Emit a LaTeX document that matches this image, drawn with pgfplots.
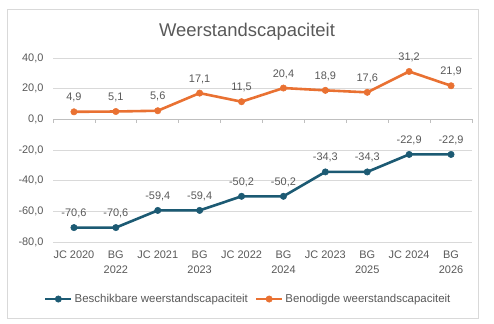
\documentclass[border=0pt]{standalone}
\usepackage{fontspec}
\setmainfont{Liberation Sans}
\usepackage{pgfplots}
\pgfplotsset{compat=1.18}
\definecolor{txt}{HTML}{595959}
\definecolor{gridc}{HTML}{D9D9D9}
\definecolor{zeroc}{HTML}{BFBFBF}
\definecolor{blueS}{HTML}{1C5A73}
\definecolor{orangeS}{HTML}{E97132}
\begin{document}
\begin{tikzpicture}
\draw[gridc, line width=0.75bp] (7bp,6bp) rectangle (478bp,315bp);
\node[font=\fontsize{18.5}{21}\selectfont, text=txt] at (247bp,292bp) {Weerstandscapaciteit};
\begin{axis}[
  at={(53bp,82bp)}, anchor=south west,
  scale only axis, width=419bp, height=184bp,
  xmin=-0.5, xmax=9.5, ymin=-80, ymax=40,
  xtick={0,...,9},
  xticklabels={JC 2020,{BG\\2022},JC 2021,{BG\\2023},JC 2022,{BG\\2024},JC 2023,{BG\\2025},JC 2024,{BG\\2026}},
  ytick={-80,-60,...,40},
  axis line style={draw=none},
  major tick length=0pt,
  ymajorgrids, grid style={gridc, line width=0.75bp},
  /pgf/number format/.cd, fixed, fixed zerofill, precision=1, use comma, assume math mode=true,
  /pgfplots/.cd,
  tick label style={font=\fontsize{11}{15}\selectfont, text=txt},
  xticklabel style={align=center, yshift=-5.5bp},
  yticklabel style={xshift=-6bp},
  clip=false,
  nodes near coords={\pgfmathprintnumber[fixed,fixed zerofill,precision=1,use comma,assume math mode=true]{\pgfplotspointmeta}},
  nodes near coords align={anchor=south},
  every node near coord/.append style={font=\fontsize{11}{13}\selectfont, text=txt, anchor=south, yshift=6bp},
  legend columns=2,
  legend style={draw=none, at={(0.466,-0.31)}, anchor=center, font=\fontsize{11.5}{13}\selectfont, text=txt,
    /tikz/every even column/.append style={column sep=5bp}, inner xsep=0pt},
  legend image code/.code={\draw[#1, mark repeat=2, mark phase=2] plot coordinates {(0bp,0bp) (13bp,0bp) (26bp,0bp)};},
]
\draw[zeroc, line width=0.75bp] (axis cs:-0.5,0) -- (axis cs:9.5,0);
\draw[zeroc, line width=0.75bp]
  (axis cs:-0.5,0) -- ([yshift=-4bp]axis cs:-0.5,0)
  (axis cs:0.5,0) -- ([yshift=-4bp]axis cs:0.5,0)
  (axis cs:1.5,0) -- ([yshift=-4bp]axis cs:1.5,0)
  (axis cs:2.5,0) -- ([yshift=-4bp]axis cs:2.5,0)
  (axis cs:3.5,0) -- ([yshift=-4bp]axis cs:3.5,0)
  (axis cs:4.5,0) -- ([yshift=-4bp]axis cs:4.5,0)
  (axis cs:5.5,0) -- ([yshift=-4bp]axis cs:5.5,0)
  (axis cs:6.5,0) -- ([yshift=-4bp]axis cs:6.5,0)
  (axis cs:7.5,0) -- ([yshift=-4bp]axis cs:7.5,0)
  (axis cs:8.5,0) -- ([yshift=-4bp]axis cs:8.5,0)
  (axis cs:9.5,0) -- ([yshift=-4bp]axis cs:9.5,0);
\addplot[blueS, line width=2.6bp, mark=*, mark size=3.2bp, mark options={solid, fill=blueS, draw=blueS, line width=0.5bp}]
  coordinates {(0,-70.6) (1,-70.6) (2,-59.4) (3,-59.4) (4,-50.2) (5,-50.2) (6,-34.3) (7,-34.3) (8,-22.9) (9,-22.9)};
\addlegendentry{Beschikbare weerstandscapaciteit}
\addplot[orangeS, line width=2.6bp, mark=*, mark size=3.2bp, mark options={solid, fill=orangeS, draw=orangeS, line width=0.5bp}]
  coordinates {(0,4.9) (1,5.1) (2,5.6) (3,17.1) (4,11.5) (5,20.4) (6,18.9) (7,17.6) (8,31.2) (9,21.9)};
\addlegendentry{Benodigde weerstandscapaciteit}
\end{axis}
\pgfresetboundingbox
\path[use as bounding box] (0bp,0bp) rectangle (494bp,324bp);
\end{tikzpicture}
\end{document}
